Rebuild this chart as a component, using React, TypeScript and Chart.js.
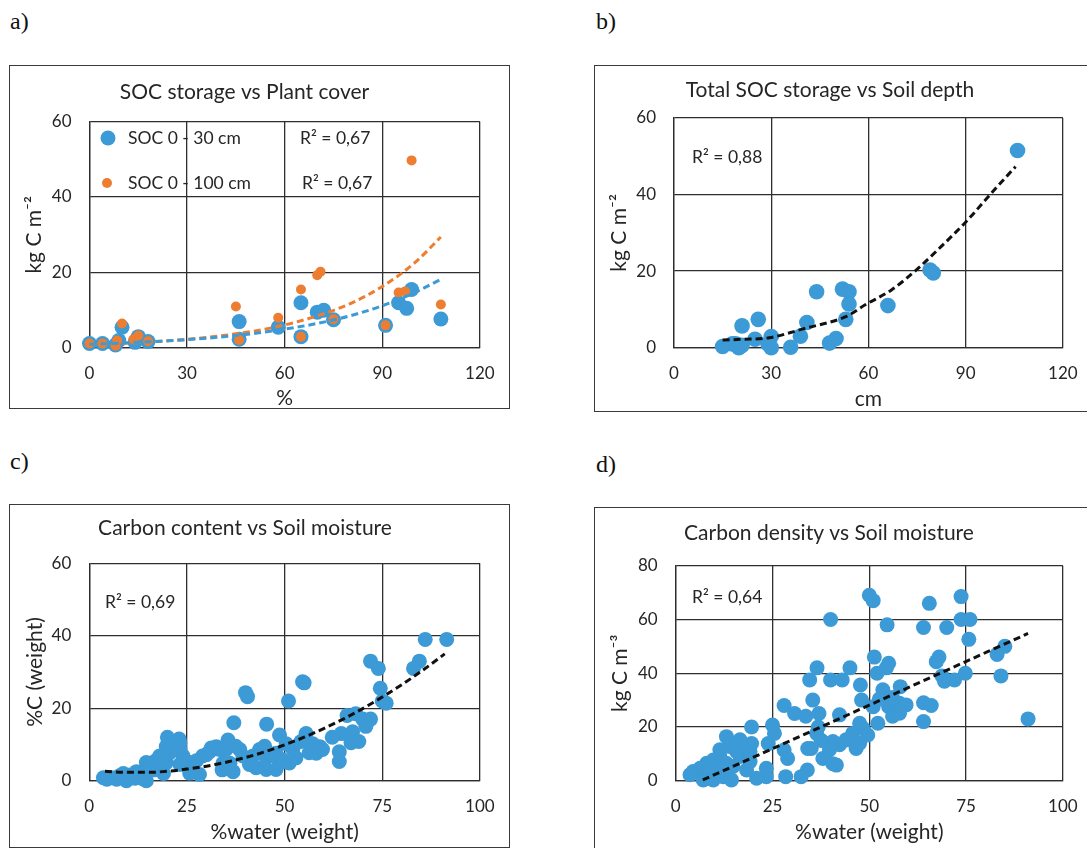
import React, { useEffect, useRef } from "react";
import { Chart, registerables } from "chart.js";
Chart.register(...registerables);

// ---------------- DATA ----------------
// a) SOC storage vs Plant cover
const coverXTicks = [0, 30, 60, 90, 120];
const coverYTicks = [0, 20, 40, 60];
const soc30X = [0, 4, 8, 9, 10, 14, 15, 18, 46, 46, 58, 65, 65, 70, 72, 75, 91, 95, 97.5, 99, 108];
const soc30Y = [1.2, 1.2, 0.8, 2, 5.5, 1.5, 3, 1.7, 7, 2.3, 5.5, 12, 3, 9.5, 10, 7.5, 6, 12, 10.5, 15.5, 7.7];
const soc100X = [0, 4, 8.5, 10, 8, 13.5, 15, 18, 45, 46, 58, 65, 65, 70, 71, 75, 91, 95, 97, 99, 108];
const soc100Y = [1.2, 1.2, 2, 6.5, 0.6, 2.3, 3.3, 1.8, 11, 2.1, 8, 15.5, 3, 19.3, 20.2, 7.6, 6, 14.7, 15, 49.7, 11.5];
const trend30X = [0, 10, 20, 30, 40, 50, 60, 70, 80, 90, 100, 108];
const trend30Y = [1.0, 1.3, 1.7, 2.2, 2.9, 3.8, 5.0, 6.5, 8.5, 11.2, 14.7, 18.2];
const trend100X = [0, 10, 20, 30, 40, 50, 60, 70, 80, 90, 100, 108];
const trend100Y = [0.9, 1.2, 1.7, 2.3, 3.2, 4.4, 6.1, 8.5, 11.7, 16.3, 22.6, 29.4];

// b) Total SOC storage vs Soil depth
const depthXTicks = [0, 30, 60, 90, 120];
const depthYTicks = [0, 20, 40, 60];
const depthX = [106, 79, 80, 66, 44, 52, 54, 54, 53, 41, 39, 50, 48, 36, 26, 21, 25, 30, 30, 29, 15, 18, 20, 21, 19];
const depthY = [51.5, 20.3, 19.5, 11, 14.6, 15.3, 14.6, 11.4, 7.4, 6.6, 3, 2.4, 1.2, 0.1, 7.4, 5.7, 2.2, 2.9, 0, 1, 0.3, 1, 0, 0.6, 1];
const depthTrendX = [15, 21, 29.4, 40.6, 53, 59, 67.1, 75.3, 82.4, 90.1, 98.8, 105.4];
const depthTrendY = [2.0, 2.2, 2.6, 5.1, 8.1, 11.2, 15.1, 20.7, 26.4, 32.9, 41.2, 47.3];

// c) Carbon content vs Soil moisture
const moistXTicks = [0, 25, 50, 75, 100];
const contentYTicks = [0, 20, 40, 60];
const contentX = [86, 91.5, 84.5, 83, 72, 74, 74.5, 76, 75, 54.6, 55, 51, 40, 40.5, 37, 45.4, 20, 23, 64, 64, 64.5, 66, 68.2, 70, 72, 70.8, 67.4, 69, 67, 55.5, 59, 58.1, 57.2, 48.7, 50.4, 52.1, 54.2, 47.8, 45.3, 43.6, 41.9, 41, 42.7, 45.3, 47.8, 48.7, 38.5, 39.3, 35.5, 35, 32.5, 30.8, 29, 27.4, 25.7, 24, 23.2, 23.2, 23.2, 34, 36.8, 36, 25.7, 28.2, 19, 19.7, 17, 15.5, 14.6, 18, 20.6, 19.7, 13.8, 11.7, 13.8, 14.6, 9.5, 7.8, 5.7, 3.6, 4.5, 8.7, 10.4, 12.1, 7, 37.5, 34.2, 31.2, 30, 33.4, 44.9, 46.6, 49.5, 51.2, 52.9, 56.3, 59.7, 62.2, 26.5, 16.5];
const contentY = [39, 39, 33, 31, 33, 31, 25.5, 21.4, 22, 27.3, 27, 22, 24.3, 23.2, 16, 15.6, 12, 11.5, 8, 5.3, 13, 18, 18.5, 17, 17, 15, 13.5, 10.8, 10.5, 13, 9.4, 7.6, 10.2, 12.6, 10.2, 8.6, 10.8, 7.6, 6.3, 8.6, 6.8, 4.5, 3.6, 3.1, 3.1, 4.9, 8.6, 6.8, 11.2, 8.6, 9.4, 8, 6.8, 5.5, 5, 6.8, 8.6, 10.4, 4.5, 3, 2.5, 4.8, 2.1, 1.7, 2, 5, 5.5, 4.1, 5, 6.8, 7.7, 9.4, 2.1, 0.7, 0.5, 0, 0, 1.4, 0.8, 0.8, 0.4, 2, 1.6, 2.5, 0.4, 9.5, 4.8, 9, 7.2, 8.6, 9.5, 7.2, 5.8, 4.9, 6.3, 7.7, 8.6, 12, 3.5, 3];
const contentTrendX = [4, 10, 15, 20, 25, 30, 35, 40, 45, 50, 55, 60, 65, 70, 75, 80, 85, 91];
const contentTrendY = [2.6, 2.3, 2.3, 2.6, 3.2, 4.0, 5.1, 6.4, 8.0, 9.9, 12.0, 14.4, 17.0, 19.9, 23.1, 26.5, 30.2, 35.0];

// d) Carbon density vs Soil moisture
const densityYTicks = [0, 20, 40, 60, 80];
const densityX = [50, 51, 65.5, 73.7, 40, 54.6, 64, 70, 73.7, 76, 75.7, 85, 83, 84, 91, 68, 67.3, 68.8, 69.4, 72, 74.8, 64, 66, 64, 51.3, 55, 54.4, 52, 36.5, 34.6, 40, 43, 45, 47.7, 58, 53.5, 35.4, 28, 30.7, 33.6, 37, 42.3, 48, 51, 55, 57.8, 59.5, 56, 52.6, 47.5, 48.3, 45.7, 46.6, 44, 42.3, 40.6, 39.7, 38, 37.6, 36.4, 36.8, 35, 41.5, 34, 32.4, 28.4, 25, 25.5, 28, 28.9, 23.9, 19.6, 19.6, 23.4, 23.4, 20.9, 18.3, 19.2, 16.6, 16.6, 13.1, 13.9, 11.4, 11.4, 9.7, 8, 6.3, 4.5, 3.7, 7.1, 9.7, 12.3, 14.4, 14.8, 13.1, 17.4, 19.2, 15.7, 10.6, 8.9, 34.1, 40.6, 47.5, 49.6, 52.2, 56, 57.8];
const densityY = [69, 67, 66, 68.5, 60, 58, 57, 57, 60, 60, 52.6, 50, 47, 39, 23, 46, 44.3, 39, 37, 37.5, 40, 29, 28, 22, 46, 43.7, 42, 40, 42, 37.5, 37.5, 37.5, 42, 35.6, 35, 33.8, 30, 28, 25, 24, 25, 24.5, 30, 27.5, 27.5, 28.8, 28.2, 31, 30.4, 21.4, 19.6, 17.6, 12, 15.2, 13.4, 14.6, 11.5, 8.3, 15, 17.6, 20, 12, 5.8, 4, 1.5, 1.5, 20.7, 17.6, 11.4, 8.3, 13.8, 20, 13.8, 4.6, 1.5, 0.9, 4, 7.1, 9, 15.2, 16.4, 12.7, 11.5, 9, 7.7, 6.5, 4.6, 3.4, 2.2, 0.3, 0.3, 1.5, 0.3, 5.3, 6.5, 11.5, 10.9, 10.9, 5.3, 4, 12, 6.3, 14, 17, 21.4, 24, 25.1];
const densityTrendX = [7, 50, 91];
const densityTrendY = [0.3, 28.1, 54.8];

// ---------------- STYLE ----------------
const FONT = "Lato, 'Noto Sans', 'DejaVu Sans', sans-serif";
const BLUE = "#3c9ad6";
const ORANGE = "#ed7d31";
const INK = "#262626";
const GRID = "#2e2e2e";
const TITLE_SIZE = 21;
const AXIS_SIZE = 21;
const TICK_SIZE = 17;
const NOTE_SIZE = 17.5;
const EXTRA = 30;

const pts = (xs: number[], ys: number[]) => xs.map((x, i) => ({ x, y: ys[i] }));

const notesPlugin = {
  id: "notes",
  afterDatasetsDraw(chart: any, _args: any, opts: any) {
    const ctx = chart.ctx;
    ctx.save();
    for (const it of opts.items || []) {
      if (it.dot) {
        ctx.beginPath();
        ctx.arc(it.x, it.y, it.r, 0, Math.PI * 2);
        ctx.fillStyle = it.dot;
        ctx.fill();
      }
      if (it.text) {
        ctx.font = `${NOTE_SIZE}px ${FONT}`;
        ctx.fillStyle = INK;
        ctx.textAlign = "left";
        ctx.textBaseline = "middle";
        ctx.fillText(it.text, it.x, it.y);
      }
    }
    ctx.restore();
  },
};

type Geo = { box: number[]; area: number[]; titleY: number; yTitleX: number; xTitleY: number };

type Spec = {
  geo: Geo;
  title: string;
  xTitle: string;
  yTitle: string;
  xTicks: number[];
  yTicks: number[];
  datasets: any[];
  notes: any[];
};

const scatterSet = (xs: number[], ys: number[], color: string, r: number) => ({
  data: pts(xs, ys),
  backgroundColor: color,
  borderColor: color,
  pointBackgroundColor: color,
  pointBorderColor: color,
  pointBorderWidth: 0,
  pointRadius: r,
  pointHoverRadius: r,
  showLine: false,
  clip: false,
});

const trendSet = (xs: number[], ys: number[], color: string) => ({
  data: pts(xs, ys),
  borderColor: color,
  backgroundColor: color,
  borderWidth: 3,
  borderDash: [7, 4],
  pointRadius: 0,
  pointHoverRadius: 0,
  showLine: true,
  cubicInterpolationMode: "monotone",
  clip: false,
});

const SPECS: Spec[] = [
  {
    geo: { box: [9, 65, 501, 344], area: [89.5, 121.5, 480, 348], titleY: 92, yTitleX: 34, xTitleY: 398 },
    title: "SOC storage vs Plant cover",
    xTitle: "%",
    yTitle: "kg C m\u207B\u00B2",
    xTicks: coverXTicks,
    yTicks: coverYTicks,
    datasets: [
      trendSet(trend30X, trend30Y, BLUE),
      trendSet(trend100X, trend100Y, ORANGE),
      scatterSet(soc100X, soc100Y, ORANGE, 5),
      scatterSet(soc30X, soc30Y, BLUE, 7.5),
    ],
    notes: [
      { dot: BLUE, r: 7.5, x: 108, y: 138 },
      { text: "SOC 0 - 30 cm", x: 128, y: 138 },
      { dot: ORANGE, r: 5, x: 107, y: 183 },
      { text: "SOC 0 - 100 cm", x: 128, y: 183 },
      { text: "R\u00B2 = 0,67", x: 300, y: 138 },
      { text: "R\u00B2 = 0,67", x: 302, y: 183 },
    ],
  },
  {
    geo: { box: [594, 65, 499, 347], area: [674, 118, 1066, 347.7], titleY: 90, yTitleX: 619, xTitleY: 399 },
    title: "Total SOC storage vs Soil depth",
    xTitle: "cm",
    yTitle: "kg C m\u207B\u00B2",
    xTicks: depthXTicks,
    yTicks: depthYTicks,
    datasets: [trendSet(depthTrendX, depthTrendY, "#111111"), scatterSet(depthX, depthY, BLUE, 7.8)],
    notes: [{ text: "R\u00B2 = 0,88", x: 692, y: 157 }],
  },
  {
    geo: { box: [9, 504, 501, 344], area: [89.3, 563.3, 481, 780.7], titleY: 528, yTitleX: 35, xTitleY: 832 },
    title: "Carbon content vs Soil moisture",
    xTitle: "%water (weight)",
    yTitle: "%C (weight)",
    xTicks: moistXTicks,
    yTicks: contentYTicks,
    datasets: [trendSet(contentTrendX, contentTrendY, "#111111"), scatterSet(contentX, contentY, BLUE, 7.5)],
    notes: [{ text: "R\u00B2 = 0,69", x: 105, y: 602 }],
  },
  {
    geo: { box: [594, 507, 499, 343], area: [675.7, 565.7, 1064, 780.7], titleY: 533, yTitleX: 620, xTitleY: 832 },
    title: "Carbon density vs Soil moisture",
    xTitle: "%water (weight)",
    yTitle: "kg C m\u207B\u00B3",
    xTicks: moistXTicks,
    yTicks: densityYTicks,
    datasets: [trendSet(densityTrendX, densityTrendY, "#111111"), scatterSet(densityX, densityY, BLUE, 7.5)],
    notes: [{ text: "R\u00B2 = 0,64", x: 692, y: 597 }],
  },
];

function Panel({ spec }: { spec: Spec }) {
  const ref = useRef<HTMLCanvasElement>(null);
  const [bx, by, bw, bh] = spec.geo.box;
  const [aL, aT, aR, aB] = spec.geo.area;
  const ch = bh + EXTRA;

  useEffect(() => {
    if (!ref.current) return;
    const tLH = TITLE_SIZE * 1.2;
    const axLH = AXIS_SIZE * 1.2;
    const tkLH = TICK_SIZE * 1.2;
    const tc = spec.geo.titleY - by;
    const notes = spec.notes.map((n) => ({ ...n, x: n.x - bx, y: n.y - by }));
    const xs = spec.xTicks;
    const ys = spec.yTicks;
    const chart = new Chart(ref.current, {
      type: "scatter",
      data: { datasets: spec.datasets },
      plugins: [notesPlugin as any],
      options: {
        responsive: false,
        animation: false,
        devicePixelRatio: 1,
        events: [],
        layout: { padding: { left: 0, top: 0, bottom: 0, right: bx + bw - aR } },
        plugins: {
          legend: { display: false },
          tooltip: { enabled: false },
          title: {
            display: true,
            text: spec.title,
            color: INK,
            font: { family: FONT, size: TITLE_SIZE, weight: "normal" },
            padding: { top: tc - tLH / 2, bottom: aT - by - tc - tLH / 2 },
          },
          notes: { items: notes },
        } as any,
        scales: {
          x: {
            type: "linear",
            min: xs[0],
            max: xs[xs.length - 1],
            afterBuildTicks: (s: any) => {
              s.ticks = xs.map((v) => ({ value: v }));
            },
            afterFit: (s: any) => {
              s.height = ch - (aB - by);
            },
            ticks: {
              color: INK,
              font: { family: FONT, size: TICK_SIZE },
              padding: 25.5 - tkLH / 2,
              maxRotation: 0,
              autoSkip: false,
            },
            grid: { color: GRID, lineWidth: 1.3, drawTicks: false },
            border: { color: GRID, width: 1.3 },
            title: {
              display: true,
              text: spec.xTitle,
              color: INK,
              font: { family: FONT, size: AXIS_SIZE },
              padding: { top: 0, bottom: ch - (spec.geo.xTitleY - by) - axLH / 2 },
            },
          },
          y: {
            type: "linear",
            min: ys[0],
            max: ys[ys.length - 1],
            afterBuildTicks: (s: any) => {
              s.ticks = ys.map((v) => ({ value: v }));
            },
            afterFit: (s: any) => {
              s.width = aL - bx;
            },
            ticks: {
              color: INK,
              font: { family: FONT, size: TICK_SIZE },
              padding: 18,
              autoSkip: false,
            },
            grid: { color: GRID, lineWidth: 1.3, drawTicks: false },
            border: { color: GRID, width: 1.3 },
            title: {
              display: true,
              text: spec.yTitle,
              color: INK,
              font: { family: FONT, size: AXIS_SIZE },
              padding: { top: spec.geo.yTitleX - bx - axLH / 2, bottom: 0 },
            },
          },
        },
      } as any,
    });
    return () => chart.destroy();
  }, []);

  return (
    <>
      <div
        style={{
          position: "absolute",
          left: bx,
          top: by,
          width: bw,
          height: bh,
          border: "1.5px solid #3a3a3a",
          boxSizing: "border-box",
        }}
      />
      <canvas
        ref={ref}
        width={bw}
        height={ch}
        style={{ position: "absolute", left: bx, top: by, width: bw, height: ch }}
      />
    </>
  );
}

const LABELS = [
  { t: "a)", x: 10, y: 21 },
  { t: "b)", x: 596, y: 21 },
  { t: "c)", x: 10, y: 461 },
  { t: "d)", x: 596, y: 464 },
];

export default function App() {
  return (
    <div
      style={{
        position: "fixed",
        left: 0,
        top: 0,
        width: "100vw",
        height: "100vh",
        overflow: "hidden",
        background: "#ffffff",
      }}
    >
      {LABELS.map((l) => (
        <div
          key={l.t}
          style={{
            position: "absolute",
            left: l.x,
            top: l.y - 14,
            fontFamily: "'Liberation Serif', 'Times New Roman', serif",
            fontSize: 24,
            lineHeight: "28px",
            color: "#111",
          }}
        >
          {l.t}
        </div>
      ))}
      {SPECS.map((s, i) => (
        <Panel key={i} spec={s} />
      ))}
    </div>
  );
}
